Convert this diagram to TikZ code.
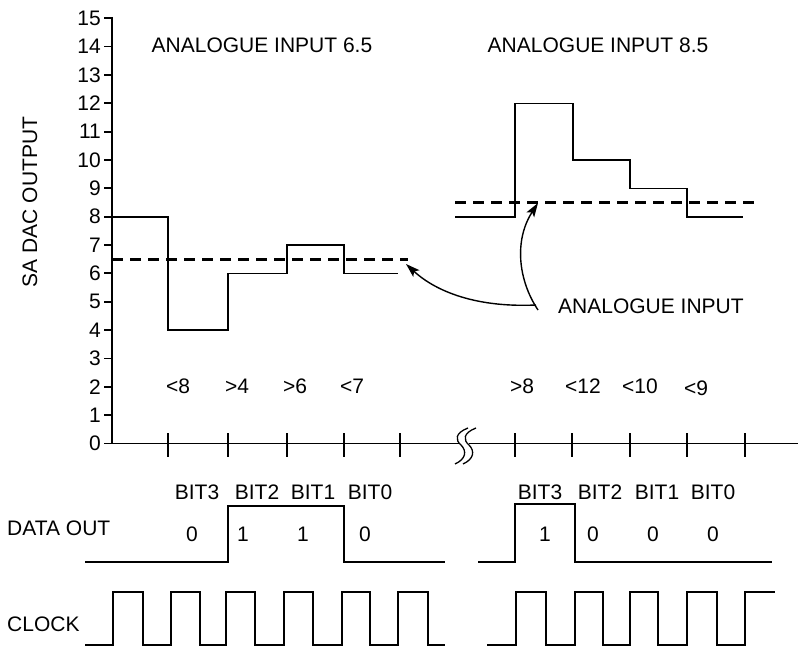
\documentclass[tikz,border=0pt]{standalone}
\usepackage{fontspec}
\setmainfont{Liberation Sans}
\usetikzlibrary{arrows.meta}
\begin{document}
\begin{tikzpicture}[x=1pt,y=-1pt,
  lbl/.style={inner sep=0pt,font=\fontsize{21}{25}\selectfont},
  axisline/.style={line width=1.8pt},
  stepline/.style={line width=1.4pt},
  dashline/.style={line width=2.8pt,dash pattern=on 11pt off 7pt},
  sigline/.style={line width=1.6pt},
  arr/.style={line width=1.4pt,-{Stealth[length=14pt,width=9pt,inset=3pt]}}]
\useasboundingbox (0,0) rectangle (800,652);
% axes
\draw[axisline] (112,17) -- (112,443.5) -- (460,443.5);
\draw[axisline] (469,443.5) -- (798,443.5);
\foreach \v in {0,...,15}{
  \draw[axisline] (104,443.5-28.35*\v) -- (112,443.5-28.35*\v);
  \node[lbl,anchor=east] (t\v) at (101,443.5-28.35*\v) {\v};
}
\foreach \x in {168,228,287,344,400,515,572,630,687,745}{
  \draw[line width=1.2pt] (\x,433) -- (\x,457);
}
% break symbol
\foreach \dx in {0,8}{
  \draw[line width=1.3pt] (468+\dx,428) .. controls (455+\dx,433) and (455+\dx,440) .. (461+\dx,445) .. controls (467+\dx,451) and (466+\dx,459) .. (455+\dx,464);
}
% axis label
\node[lbl,rotate=90] (ylab) at (30,202) {SA DAC OUTPUT};
% titles
\node[lbl] (title1) at (262,45) {ANALOGUE INPUT 6.5};
\node[lbl] (title2) at (598,45) {ANALOGUE INPUT 8.5};
% left staircase
\draw[stepline] (112,217.1) -- (168,217.1) -- (168,330.1) -- (228,330.1) -- (228,273.4) -- (287,273.4) -- (287,245.0) -- (344,245.0) -- (344,273.4) -- (398,273.4);
\draw[dashline] (112,259.2) -- (408,259.2);
% right staircase
\draw[stepline] (455,217.1) -- (515,217.1) -- (515,103.3) -- (573,103.3) -- (573,160.0) -- (630,160.0) -- (630,188.4) -- (687,188.4) -- (687,217.1) -- (743,217.1);
\draw[dashline] (455,202.9) -- (755,202.9);
% comparison labels
\node[lbl] (c1) at (178,386) {<8};
\node[lbl] (c2) at (237,386) {>4};
\node[lbl] (c3) at (295,386) {>6};
\node[lbl] (c4) at (352,386) {<7};
\node[lbl] (c5) at (522,386) {>8};
\node[lbl] (c6) at (583,386) {<12};
\node[lbl] (c7) at (640,386) {<10};
\node[lbl] (c8) at (696,388) {<9};
% analogue input label and arrows
\node[lbl,anchor=west] (ai) at (558,306) {ANALOGUE INPUT};
\coordinate (tipA) at (406,264);
\coordinate (tipB) at (538,203);
\draw[arr] ([xshift=-22pt,yshift=1pt]ai.west) .. controls (470,308) and (432,288) .. (tipA);
\draw[arr] ([xshift=-20pt,yshift=-4pt]ai.west) .. controls (518,280) and (514,240) .. (tipB);
% bottom labels
\node[lbl] (b3) at (197,492) {BIT3};
\node[lbl] (b2) at (257,492) {BIT2};
\node[lbl] (b1) at (313,492) {BIT1};
\node[lbl] (b0) at (370,492) {BIT0};
\node[lbl] (rb3) at (540,492) {BIT3};
\node[lbl] (rb2) at (600,492) {BIT2};
\node[lbl] (rb1) at (657,492) {BIT1};
\node[lbl] (rb0) at (713,492) {BIT0};
\node[lbl,anchor=west] (dout) at (7,528) {DATA OUT};
\node[lbl,anchor=west] (clk) at (7,624) {CLOCK};
\node[lbl] (d3) at (192,534) {0};
\node[lbl] (d2) at (243,534) {1};
\node[lbl] (d1) at (303,534) {1};
\node[lbl] (d0) at (365,534) {0};
\node[lbl] (rd3) at (545,534) {1};
\node[lbl] (rd2) at (593,534) {0};
\node[lbl] (rd1) at (653,534) {0};
\node[lbl] (rd0) at (713,534) {0};
% data out waveforms
\draw[sigline] (85,562) -- (228,562) -- (228,506) -- (344,506) -- (344,562) -- (445,562);
\draw[sigline] (478,562) -- (515,562) -- (515,504) -- (575,504) -- (575,562) -- (772,562);
% clock waveforms
\draw[sigline] (85,645) -- (113,645) -- (113,592) -- (143,592) -- (143,645) -- (171,645) -- (171,592) -- (200,592) -- (200,645) -- (226,645) -- (226,592) -- (255,592) -- (255,645) -- (284,645) -- (284,592) -- (313,592) -- (313,645) -- (342,645) -- (342,592) -- (370,592) -- (370,645) -- (398,645) -- (398,592) -- (428,592) -- (428,645) -- (445,645);
\draw[sigline] (487,645) -- (516,645) -- (516,592) -- (546,592) -- (546,645) -- (575,645) -- (575,592) -- (603,592) -- (603,645) -- (630,645) -- (630,592) -- (658,592) -- (658,645) -- (687,645) -- (687,592) -- (717,592) -- (717,645) -- (745,645) -- (745,592) -- (775,592);
\end{tikzpicture}
\end{document}
